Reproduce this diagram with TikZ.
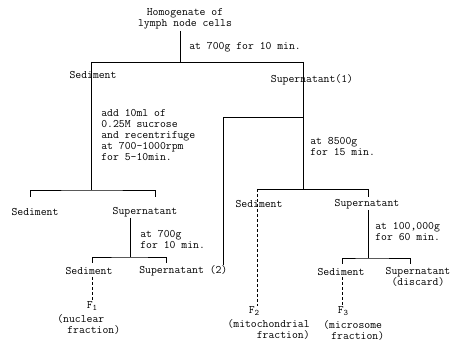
\documentclass[tikz,border=0pt]{standalone}
\usepackage{fontspec}
\begin{document}
\begin{tikzpicture}[x=1pt,y=-1pt, line width=0.6pt,
  txt/.style={font=\ttfamily\fontsize{11.4}{11}\selectfont, inner sep=0pt, align=left},
  dconn/.style={dash pattern=on 3pt off 2pt}]
\useasboundingbox (0,0) rectangle (450,344);
\fill[white] (0,0) rectangle (450,344);
% texts
\node[txt, align=center] (hom) at (185,18.5) {Homogenate of\\lymph node cells};
\node[txt, anchor=west] (lab1) at (189,47) {at 700g for 10 min.};
\node[txt] (sed1) at (93,75) {Sediment};
\node[txt] (sup1) at (312,80) {Supernatant(1)};
\node[txt, anchor=west] (add) at (101,135) {add 10ml of\\0.25M sucrose\\and recentrifuge\\at 700-1000rpm\\for 5-10min.};
\node[txt, anchor=west] (lab2) at (310,147) {at 8500g\\for 15 min.};
\node[txt] (sed2) at (35,212) {Sediment};
\node[txt] (sup2) at (145,212) {Supernatant};
\node[txt, anchor=west] (lab3) at (140,240) {at 700g\\for 10 min.};
\node[txt] (sed3) at (89,271) {Sediment};
\node[txt, anchor=west] (sup3) at (139,271) {Supernatant (2)};
\node[txt] (f1) at (92,306) {F\raisebox{-2pt}{\fontsize{8.5}{8.5}\selectfont 1}};
\node[txt, anchor=north west] (nuc) at (57,314) {(nuclear\\\hspace*{10pt}fraction)};
\node[txt] (sed4) at (259,204) {Sediment};
\node[txt] (sup4) at (367,204) {Supernatant};
\node[txt] (f2) at (254,311) {F\raisebox{-2pt}{\fontsize{8.5}{8.5}\selectfont 2}};
\node[txt, align=right, anchor=north east] (mito) at (310,319) {(mitochondrial\\fraction)};
\node[txt, anchor=west] (lab4) at (375,232) {at 100,000g\\for 60 min.};
\node[txt] (sed5) at (341,272) {Sediment};
\node[txt, align=center] (sup5) at (418,277) {Supernatant\\(discard)};
\node[txt] (f3) at (343,311) {F\raisebox{-2pt}{\fontsize{8.5}{8.5}\selectfont 3}};
\node[txt, anchor=north west] (micro) at (323,320) {(microsome\\\hspace*{8pt}fraction)};
% junctions
\coordinate (j0top) at (180,31);
\coordinate (j0) at (180,62);
\coordinate (b1l) at (91,62);
\coordinate (b1r) at (303,62);
\coordinate (j1) at (91,190);
\coordinate (j2) at (303,189);
\coordinate (m2) at (303,117);
\coordinate (b2l) at (30,197);
\coordinate (b2r) at (155,197);
\coordinate (s2b) at (130,218);
\coordinate (j3) at (130,257);
\coordinate (b3l) at (92,263);
\coordinate (b3r) at (166,263);
\coordinate (s3b) at (92,277);
\coordinate (s3e) at (223,265);
\coordinate (b4l) at (257,189);
\coordinate (b4r) at (368,197);
\coordinate (s4b) at (368,210);
\coordinate (j5) at (368,258);
\coordinate (b5l) at (342,264);
\coordinate (b5r) at (410,264);
\coordinate (s5b) at (342,277);
% connectors
\draw (j0top) -- (j0);
\draw (b1l) -- (b1r);
\draw (b1l) -- (j1);
\draw (b1r) -- (j2);
\draw (b2l) |- (j1) -| (b2r);
\draw (s2b) -- (j3);
\draw (b3l) |- (j3) -| (b3r);
\draw[dconn] (s3b) -- (s3b |- f1.north);
\draw (s3e) |- (m2);
\draw (b4l) -| (b4r);
\draw[dconn] (b4l) -- (b4l |- f2.north);
\draw (s4b) -- (j5);
\draw (b5l) |- (j5) -| (b5r);
\draw[dconn] (s5b) -- (s5b |- f3.north);
\end{tikzpicture}
\end{document}
